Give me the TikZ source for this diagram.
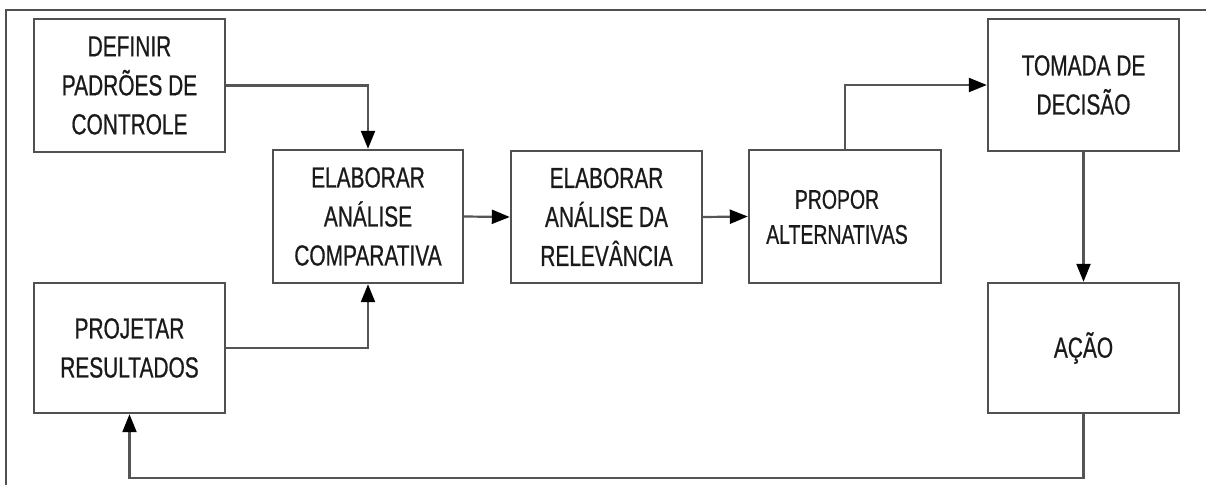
\documentclass[tikz,border=0pt]{standalone}
\usepackage{fontspec}
\setmainfont{Liberation Sans}[FakeStretch=0.72,FakeBold=0.6]
\usetikzlibrary{arrows.meta}
\definecolor{boxline}{HTML}{505050}
\definecolor{conline}{HTML}{555555}
\definecolor{txt}{HTML}{1A1A1A}
\begin{document}
\begin{tikzpicture}[x=1pt,y=-1pt,
  blk/.style={draw=boxline, line width=2.4pt, rectangle, align=center,
    text=txt, font=\fontsize{29}{39}\selectfont, inner sep=0pt},
  conn/.style={draw=conline, line width=2.2pt},
  arr/.style={conn, -{Triangle[length=18pt,width=14pt,color=black]}}]
\useasboundingbox (0,0) rectangle (1206,485);
% outer frame (top and left edges visible)
\coordinate (ftl) at (6,10);
\coordinate (ftr) at (1206,10);
\coordinate (fbl) at (6,485);
\draw[draw=boxline, line width=2pt] (ftr) -- (ftl) -- (fbl);
% blocks
\node[blk, minimum width=191pt, minimum height=133pt] (def) at (129.5,85.5) {DEFINIR\\PADRÕES DE\\CONTROLE};
\node[blk, minimum width=191pt, minimum height=130pt] (proj) at (129.5,348) {PROJETAR\\RESULTADOS};
\node[blk, minimum width=190pt, minimum height=133pt] (comp) at (368,216.5) {ELABORAR\\ANÁLISE\\COMPARATIVA};
\node[blk, minimum width=191pt, minimum height=132pt] (rel) at (606.5,217) {ELABORAR\\ANÁLISE DA\\RELEVÂNCIA};
\node[blk, minimum width=192pt, minimum height=133pt] (prop) at (845,216.5) {};
\node[align=center, text=txt, font=\fontsize{27}{35}\selectfont, inner sep=0pt] (propt) at (837,217) {PROPOR\\ALTERNATIVAS};
\node[blk, minimum width=191pt, minimum height=132pt] (tom) at (1083.5,85) {TOMADA DE\\DECISÃO};
\node[blk, minimum width=191pt, minimum height=130pt] (acao) at (1083.5,348) {AÇÃO};
\coordinate (bot) at (0,478);
% connectors
\draw[arr] (def.east) -| (comp.north);
\draw[arr] (proj.east) -| (comp.south);
\draw[arr] (comp.east) -- (rel.west);
\draw[arr] (rel.east) -- (prop.west);
\draw[arr] (prop.north) |- (tom.west);
\draw[arr] (tom.south) -- (acao.north);
\draw[arr] (acao.south) -- (acao.south |- bot) -| (proj.south);
\end{tikzpicture}
\end{document}
